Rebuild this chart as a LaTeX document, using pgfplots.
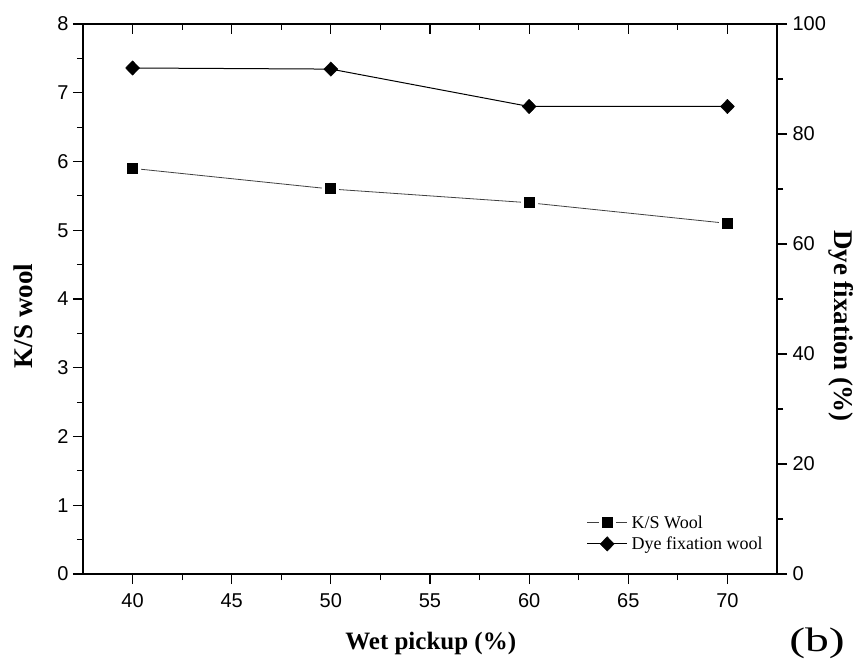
\documentclass[border=0pt]{standalone}
\usepackage{pgfplots}
\pgfplotsset{compat=1.18}
\usepackage{fontspec}
\setmainfont{Liberation Serif}
\newfontfamily\arial{Liberation Sans}

\pgfplotstableread{
x ks
40 5.9
50 5.6
60 5.4
70 5.1
}\kstable
\pgfplotstableread{
x fix
40 92.0
50 91.8
60 85.0
70 85.0
}\fixtable

\pgfplotsset{
  base/.style={
    width=694pt, height=550pt, scale only axis,
    at={(83pt,85pt)}, anchor=south west,
    xmin=37.5, xmax=72.5,
    axis line style={line width=1.2pt},
    major tick length=10pt, minor tick length=6pt,
    every tick/.style={line width=1.2pt, black},
    ticklabel style={font=\arial\fontsize{20}{24}\selectfont},
    /pgf/number format/assume math mode=true,
  },
  ksmark/.style={mark=square*, mark size=7pt, mark options={draw=white, line width=3pt, fill=black, solid}},
  fixmark/.style={mark=diamond*, mark size=7.2pt, mark options={draw=black, fill=black, line width=0.4pt, xscale=1.3, solid}},
}

\begin{document}
\begin{tikzpicture}
\useasboundingbox (0,0) rectangle (857pt,659pt);

% left axis
\begin{axis}[base,
  ymin=0, ymax=8,
  xtick={40,45,...,70}, minor x tick num=1,
  ytick={0,1,...,8}, minor y tick num=1,
  xtick pos=lower, ytick pos=left, tick align=outside,
  xlabel={Wet pickup (\%)},
  xlabel style={font=\bfseries\fontsize{25}{30}\selectfont, at={(axis description cs:0.501,-0.1255)}, anchor=center},
  ylabel={K/S wool},
  ylabel style={font=\bfseries\fontsize{27}{32}\selectfont, at={(axis description cs:-0.0865,0.469)}, anchor=center},
  xticklabel style={yshift=-6pt},
  yticklabel style={xshift=-1pt},
]
\addplot[black!75, line width=0.8pt, ksmark] table[x=x,y=ks] {\kstable};
\end{axis}

% top ticks (inside)
\begin{axis}[base,
  ymin=0, ymax=8,
  xtick={40,45,...,70}, minor x tick num=1,
  ytick=\empty, xticklabels={},
  xtick pos=upper, tick align=inside,
]
\end{axis}

% right axis
\begin{axis}[base,
  ymin=0, ymax=100,
  xtick=\empty,
  ytick={0,20,...,100}, minor y tick num=1,
  ytick pos=right, tick align=outside,
  yticklabel style={xshift=2pt},
  legend style={at={(axis description cs:0.984,0.036)}, anchor=south east, draw=none, fill=none,
    font=\fontsize{18}{21}\selectfont, row sep=3pt, inner sep=1pt,
    /tikz/every odd column/.append style={column sep=2pt}},
  legend cell align=left,
  legend image code/.code={\draw[mark repeat=2, mark phase=2] plot coordinates {(0pt,0pt) (20pt,0pt) (40pt,0pt)};},
]
\addlegendimage{black!75, line width=0.8pt, ksmark}
\addlegendentry{K/S Wool}
\addplot[black, line width=1pt, fixmark] table[x=x,y=fix] {\fixtable};
\addlegendentry{Dye fixation wool}
\end{axis}

\node[font=\bfseries\fontsize{27}{32}\selectfont, rotate=-90, anchor=center] at (841pt,333pt) {Dye fixation (\%)};
\node[font=\fontsize{34}{40}\selectfont, anchor=base, xscale=1.4, inner sep=0pt] at (817pt,8pt) {(b)};
\end{tikzpicture}
\end{document}
